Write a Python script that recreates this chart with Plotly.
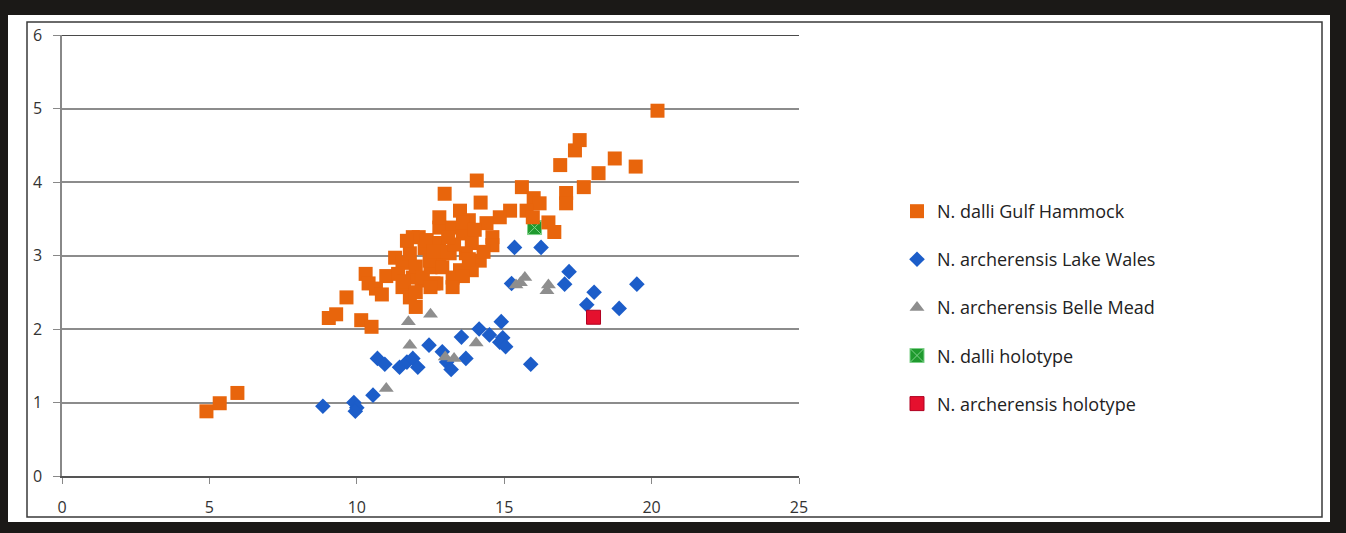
import plotly.graph_objects as go

# N. dalli, Gulf Hammock
dalli_gh_x = [4.9, 5.35, 5.95,
              9.05, 9.3, 9.65, 10.15, 10.5, 10.3, 10.4, 10.65, 10.85, 11.0,
              11.3, 11.55, 11.8, 11.9, 12.1, 11.7, 11.55, 11.8, 12.0, 11.9, 12.2,
              12.6, 12.5, 12.8, 12.8, 11.4, 11.6, 12.0, 12.3, 12.0,
              12.98, 14.07, 14.2, 13.5, 12.8, 15.2, 14.85, 13.8, 13.25, 14.4, 14.6,
              12.37, 12.8, 13.6, 13.9, 14.6, 13.15, 13.7, 14.17, 12.47, 12.9, 13.5,
              13.9, 12.24, 12.7, 13.25, 13.6, 12.5, 13.25, 13.0, 13.3, 13.1, 13.6,
              14.0, 14.3, 12.6, 13.8,
              15.6, 16.0, 16.2, 15.76, 15.97, 16.5, 16.7, 16.9, 17.1, 17.1, 17.4,
              17.56, 17.7, 18.2, 18.75, 19.46, 20.2]
dalli_gh_y = [0.88, 0.99, 1.13,
              2.15, 2.2, 2.43, 2.12, 2.03, 2.75, 2.62, 2.55, 2.47, 2.72,
              2.97, 2.9, 3.03, 3.25, 3.25, 3.2, 2.57, 2.43, 2.3, 2.7, 2.66,
              2.62, 2.84, 2.98, 3.38, 2.75, 2.65, 2.85, 3.1, 2.5,
              3.84, 4.02, 3.72, 3.61, 3.52, 3.61, 3.52, 3.48, 3.38, 3.44, 3.25,
              3.21, 3.17, 3.3, 3.17, 3.14, 3.03, 3.03, 2.93, 2.93, 2.84, 2.8,
              2.8, 2.7, 2.62, 2.7, 2.72, 2.57, 2.57, 3.05, 3.15, 3.25, 3.45,
              3.35, 3.05, 3.05, 2.95,
              3.93, 3.78, 3.71, 3.61, 3.52, 3.45, 3.32, 4.23, 3.85, 3.71, 4.43,
              4.57, 3.93, 4.12, 4.32, 4.21, 4.97]

# N. archerensis, Lake Wales
arch_lw_x = [8.85, 9.9, 10.0, 9.95, 10.55, 10.7, 10.95, 11.45, 11.7, 11.9, 12.07,
             12.45, 12.9, 13.05, 13.2, 13.55, 13.7, 14.15, 14.5, 14.9, 14.95, 14.85,
             15.05, 15.9, 15.35, 16.25, 15.25, 17.2, 17.05, 18.05, 17.8, 18.9, 19.5]
arch_lw_y = [0.95, 1.0, 0.93, 0.88, 1.10, 1.60, 1.52, 1.48, 1.55, 1.6, 1.48,
             1.78, 1.69, 1.55, 1.45, 1.89, 1.60, 2.0, 1.92, 2.1, 1.88, 1.82,
             1.76, 1.52, 3.11, 3.11, 2.62, 2.78, 2.61, 2.5, 2.33, 2.28, 2.61]

# N. archerensis, Belle Mead
arch_bm_x = [11.0, 11.75, 12.5, 11.8, 13.0, 13.3, 14.05, 15.55, 15.7, 16.5, 16.45, 15.4]
arch_bm_y = [1.19, 2.1, 2.2, 1.78, 1.62, 1.6, 1.81, 2.63, 2.7, 2.6, 2.52, 2.6]

# Holotypes
dalli_holo_x = [16.03]
dalli_holo_y = [3.38]
arch_holo_x = [18.03]
arch_holo_y = [2.16]

x_ticks = [0, 5, 10, 15, 20, 25]
y_ticks = [0, 1, 2, 3, 4, 5, 6]

FONT = "Open Sans"

fig = go.Figure()

fig.add_trace(go.Scatter(
    x=dalli_holo_x, y=dalli_holo_y, mode="markers", name="N. dalli holotype",
    legendgroup="d", legendrank=4,
    marker=dict(symbol="square-x", size=14, color="#1f9a2e",
                line=dict(color="#7fd08a", width=1))))
fig.add_trace(go.Scatter(
    x=dalli_gh_x, y=dalli_gh_y, mode="markers", name="N. dalli Gulf Hammock",
    legendgroup="a", legendrank=1,
    marker=dict(symbol="square", size=14, color="#e8650c", line=dict(width=0))))
fig.add_trace(go.Scatter(
    x=arch_lw_x, y=arch_lw_y, mode="markers", name="N. archerensis Lake Wales",
    legendgroup="b", legendrank=2,
    marker=dict(symbol="diamond", size=12, color="#1c5dc9", line=dict(width=0))))
fig.add_trace(go.Scatter(
    x=arch_bm_x, y=arch_bm_y, mode="markers", name="N. archerensis Belle Mead",
    legendgroup="c", legendrank=3,
    marker=dict(symbol="triangle-up", size=13, color="#8e8e8e", line=dict(width=0))))
fig.add_trace(go.Scatter(
    x=arch_holo_x, y=arch_holo_y, mode="markers", name="N. archerensis holotype",
    legendgroup="e", legendrank=5,
    marker=dict(symbol="square", size=14, color="#e5102e",
                line=dict(color="#b00020", width=1))))

# plot area spans pixels x 62..799, y 35..476
L, R, T, B = 62, 799, 35, 476
W, H = 1346, 533
pw, ph = R - L, B - T


def px(x):
    return (x - L) / pw


def py(y):
    return (B - y) / ph


fig.update_layout(
    width=W, height=H,
    margin=dict(l=L, r=W - R, t=T, b=H - B, pad=0),
    paper_bgcolor="#1b1917",
    plot_bgcolor="white",
    showlegend=True,
    legend=dict(
        x=px(897), y=py(193), xanchor="left", yanchor="top",
        font=dict(family=FONT, size=18, color="#222222"),
        bgcolor="rgba(0,0,0,0)", itemwidth=30, tracegroupgap=21.7,
        traceorder="grouped",
    ),
    shapes=[
        dict(type="rect", xref="paper", yref="paper", layer="below",
             x0=px(8), x1=px(1330), y0=py(522), y1=py(15),
             fillcolor="white", line=dict(width=0)),
        dict(type="rect", xref="paper", yref="paper", layer="below",
             x0=px(27), x1=px(1322), y0=py(517), y1=py(22),
             fillcolor="white", line=dict(color="#3a3a3a", width=1.5)),
        dict(type="line", xref="x", yref="y", layer="below",
             x0=0, x1=25, y0=6, y1=6, line=dict(color="#4a4a4a", width=2)),
    ],
    xaxis=dict(
        range=[0, 25], tickvals=x_ticks, showgrid=False, zeroline=False,
        showline=True, linecolor="#555555", linewidth=2,
        ticks="outside", ticklen=6, tickcolor="#888888", tickwidth=1,
        ticklabelstandoff=10,
        tickfont=dict(family=FONT, size=16, color="#333333"),
    ),
    yaxis=dict(
        range=[0, 6], tickvals=y_ticks, showgrid=True, gridcolor="#8c8c8c",
        gridwidth=1.5, zeroline=False,
        showline=True, linecolor="#888888", linewidth=1.5,
        ticks="outside", ticklen=7, tickcolor="#888888", tickwidth=1,
        ticklabelstandoff=8,
        tickfont=dict(family=FONT, size=16, color="#333333"),
    ),
)

fig.write_html("out.html")
